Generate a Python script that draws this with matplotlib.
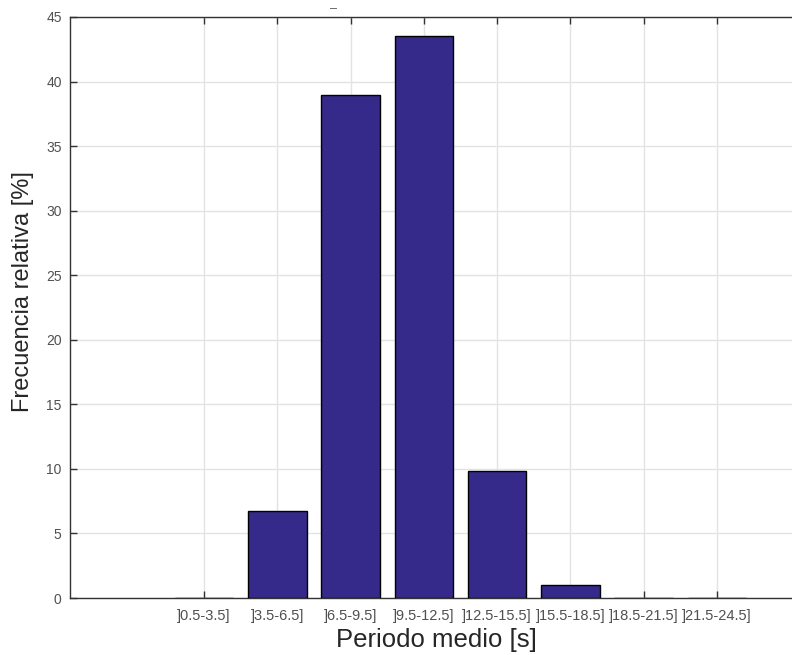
import numpy as np
import matplotlib.pyplot as plt

# Data
categories = [']0.5-3.5]', ']3.5-6.5]', ']6.5-9.5]', ']9.5-12.5]',
              ']12.5-15.5]', ']15.5-18.5]', ']18.5-21.5]', ']21.5-24.5]']
freq = [0.0, 6.75, 38.95, 43.5, 9.8, 1.0, 0.0, 0.0]

plt.rcParams['font.family'] = ['Liberation Sans', 'DejaVu Sans']

fig = plt.figure(figsize=(7.92, 6.55), dpi=100)
ax = fig.add_axes([70/792, 57/655, 732/792, 581/655])

x = np.arange(1, len(categories) + 1)
ax.bar(x, freq, width=0.8, color='#35298A', edgecolor='black', linewidth=1.0, zorder=3)

ax.set_xlim(-0.83, 9.16)
ax.set_ylim(0, 45)
ax.set_yticks(np.arange(0, 46, 5))
ax.set_xticks(x)
ax.set_xticklabels(categories, fontsize=10.5, color='#505050')
ax.tick_params(axis='y', labelsize=10, colors='#505050', pad=6)
ax.tick_params(direction='in', length=5, width=1, color='#333333', top=True, right=True)
ax.tick_params(axis='x', pad=8)
ax.grid(True, color='#e3e3e3', linewidth=1, zorder=0)
ax.set_axisbelow(True)
for s in ax.spines.values():
    s.set_color('#333333')
    s.set_linewidth(1)

# axis labels placed as in the reference
fig.text(23/792, 1 - 292/655, 'Frecuencia relativa [%]', fontsize=17, color='#262626',
         rotation=90, ha='center', va='center')
fig.text(436/792, 1 - 640/655, 'Periodo medio [s]', fontsize=18.5, color='#262626',
         ha='center', va='center')

fig.text(333/792, 1 - 9/655, '–', fontsize=9, color='#555555', ha='center', va='center')

fig.savefig('out.png', dpi=100)
